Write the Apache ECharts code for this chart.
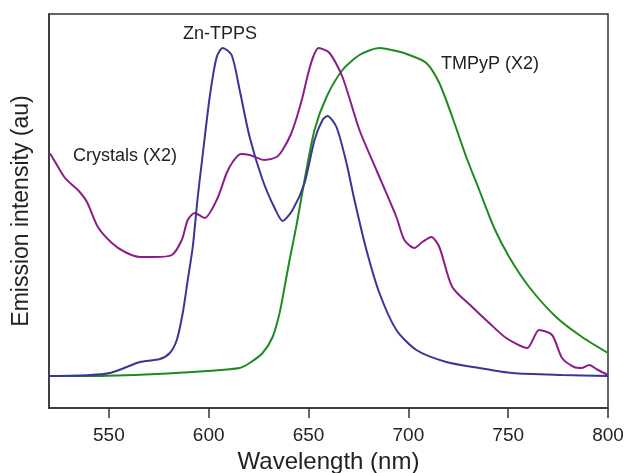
<!DOCTYPE html>
<html>
<head>
<meta charset="utf-8">
<script src="https://cdn.jsdelivr.net/npm/echarts@6/dist/echarts.min.js"></script>
<style>html,body{margin:0;padding:0;background:#fff;}#c{width:625px;height:473px;}</style>
</head>
<body>
<div id="c"></div>
<script>
// Wavelength (nm) sample positions and emission intensity (arbitrary units) for each spectrum
var znWl = [520,540.5,550.5,559,565.5,575.5,580.5,584,587,589.5,592,594.5,596.5,600.5,604,607,611.5,615.5,620.5,627,633,637,642,648,653,657,659.5,664,669,673,679,685.5,694,704,719,735.5,752,777,800];
var znVal = [0,1,3,9,14,17,23,36,63,96,129,179,213,279,319,328,321,286,239,196,168,155,166,193,236,256,260,249,213,176,126,83,46,26,14,8,3,1,0];

var crysWl = [520,521,528,534.5,539,544.5,551.5,558,565.5,573,581.5,586.5,589.5,593,598,604,609,612,616,620.5,628,634,637,641,644,647,650,652.5,655,660.5,667,675.5,684,694,698,703,707,711.5,715.5,722,732,740.5,749,759.5,765.5,772,777,783,787,790.5,795,800];
var crysVal = [223,221,198,186,174,149,133,124,119,119,121,136,156,163,158,176,203,214,222,221,216,219,226,241,258,279,304,320,328,323,299,246,206,159,136,128,134,139,129,89,69,53,38,28,46,41,18,9,8,11,6,1];

var tmWl = [520,540,574,599,615.5,620.5,627,632,635.5,638,640.5,644,648,653,659,667,675.5,685.5,694,700.5,709,715.5,722,729,735.5,743,750.5,760.5,774,787,800];
var tmVal = [0,0,2,5,8,13,23,39,63,89,116,151,196,246,279,306,321,328,325,321,313,293,259,219,186,148,119,89,59,39,23];

var seriesNames = ['Zn-TPPS','Crystals (X2)','TMPyP (X2)'];

function pairs(xs, ys){ return xs.map(function(x,i){ return [x, ys[i]]; }); }

var chart = echarts.init(document.getElementById('c'));
var font = 'Liberation Sans, Arial, Helvetica, sans-serif';
chart.setOption({
  animation: false,
  backgroundColor: '#fff',
  grid: { left: 49, right: 17, top: 14, bottom: 65, outerBoundsMode: 'none', containLabel: false, show: true, borderColor: '#333', borderWidth: 1.5, backgroundColor: 'transparent' },
  xAxis: {
    type: 'value', min: 520, max: 800, splitNumber: 5,
    name: 'Wavelength (nm)', nameLocation: 'middle', nameGap: 42,
    nameTextStyle: { fontFamily: font, fontSize: 24, color: '#222' },
    axisLine: { show: true, onZero: false, lineStyle: { color: '#333', width: 1.5 } },
    axisTick: { show: true, inside: false, length: 10, lineStyle: { color: '#333', width: 1.5 } },
    axisLabel: { showMinLabel: false, fontFamily: font, fontSize: 19, color: '#222', margin: 18 },
    splitLine: { show: false }
  },
  yAxis: {
    type: 'value', min: -32, max: 362,
    name: 'Emission intensity (au)', nameLocation: 'middle', nameGap: 16,
    nameTextStyle: { fontFamily: font, fontSize: 23, color: '#222' },
    axisLine: { show: true, lineStyle: { color: '#333', width: 1.5 } },
    axisTick: { show: false }, axisLabel: { show: false }, splitLine: { show: false }
  },
  series: [
    { name: seriesNames[2], type: 'line', data: pairs(tmWl, tmVal), showSymbol: false, smooth: 0.25, lineStyle: { color: '#1f8b1f', width: 2 } },
    { name: seriesNames[1], type: 'line', data: pairs(crysWl, crysVal), showSymbol: false, smooth: 0.25, lineStyle: { color: '#8c1c8a', width: 2 } },
    { name: seriesNames[0], type: 'line', data: pairs(znWl, znVal), showSymbol: false, smooth: 0.25, lineStyle: { color: '#3a3596', width: 2 } }
  ],
  graphic: [
    { type: 'text', left: 183, top: 25, style: { text: seriesNames[0], font: '18px ' + font, fill: '#222' } },
    { type: 'text', left: 73, top: 147, style: { text: seriesNames[1], font: '18px ' + font, fill: '#222' } },
    { type: 'text', left: 441, top: 55, style: { text: seriesNames[2], font: '18px ' + font, fill: '#222' } }
  ]
});
</script>
</body>
</html>
